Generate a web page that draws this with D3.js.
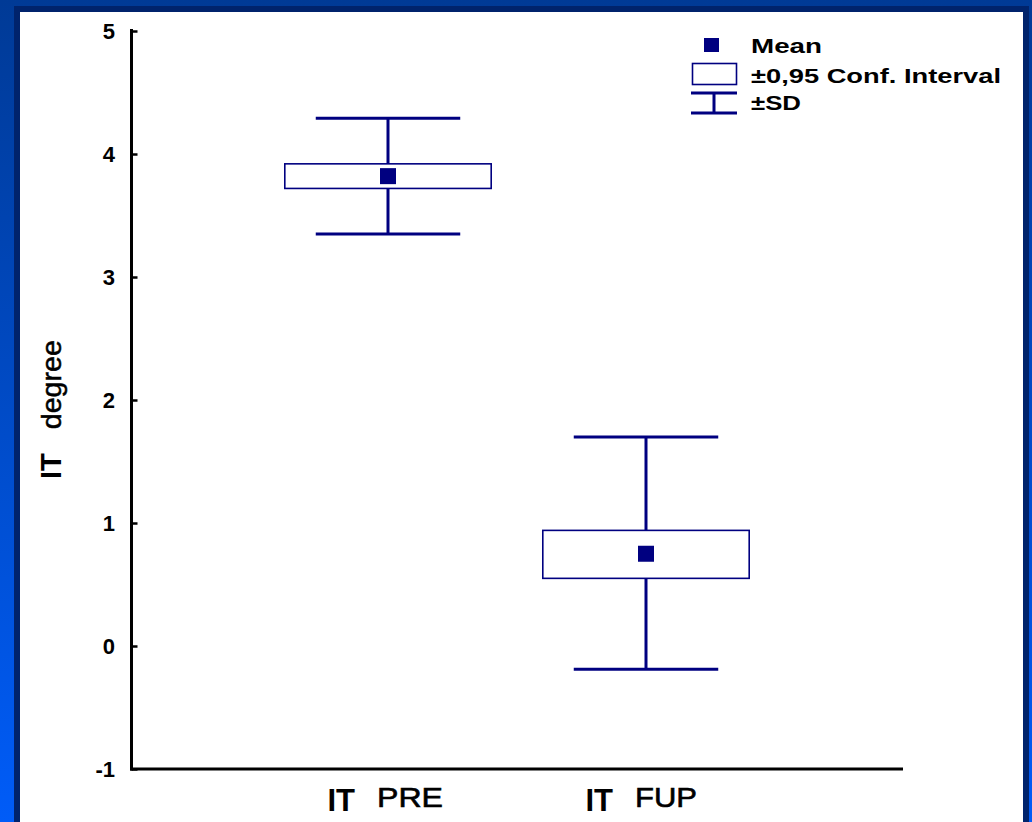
<!DOCTYPE html>
<html>
<head>
<meta charset="utf-8">
<script src="https://cdn.jsdelivr.net/npm/d3@7"></script>
<style>
  html, body { margin: 0; padding: 0; background: #0050e0; }
  svg { display: block; }
</style>
</head>
<body>
<svg id="chart" width="1032" height="822"></svg>
<script>
// Mean, 95% confidence interval and standard deviation of IT degree
const categories = ["PRE", "FUP"];
const means  = [3.82, 0.75];
const ciLow  = [3.72, 0.55];
const ciHigh = [3.92, 0.94];
const sdLow  = [3.35, -0.19];
const sdHigh = [4.29, 1.70];
const yTicks = [-1, 0, 1, 2, 3, 4, 5];
const legendLabels = ["Mean", "\u00b10,95 Conf. Interval", "\u00b1SD"];

const navy = "#000080";
const svg = d3.select("#chart");
const W = 1032, H = 822;

// slide-style frame
const defs = svg.append("defs");
const grad = defs.append("linearGradient").attr("id", "frameGrad")
  .attr("x1", 0).attr("y1", 0).attr("x2", 0).attr("y2", 1);
grad.append("stop").attr("offset", "0%").attr("stop-color", "#003a96");
grad.append("stop").attr("offset", "100%").attr("stop-color", "#005cf8");
svg.append("rect").attr("width", W).attr("height", H).attr("fill", "url(#frameGrad)");
svg.append("rect").attr("x", 14).attr("y", 6).attr("width", 1015).attr("height", H)
  .attr("fill", "#00236c");
svg.append("rect").attr("x", 20).attr("y", 12).attr("width", 1003).attr("height", H)
  .attr("fill", "#ffffff");

// scales
const y = d3.scaleLinear().domain([-1, 5]).range([769, 31]);
const x = d3.scalePoint().domain(categories).range([130, 904]).padding(1);
const step = x.step();
const boxW = step * 0.8;
const capW = step * 0.56;

// y axis
const yAxis = svg.append("g").attr("transform", "translate(131.5,0)")
  .call(d3.axisRight(y).tickValues(yTicks).tickSize(6).tickFormat(""));
yAxis.select(".domain").remove();
yAxis.selectAll(".tick line").attr("stroke", "#000").attr("stroke-width", 2.5);
svg.append("line").attr("x1", 131.5).attr("x2", 131.5)
  .attr("y1", y(5) - 2).attr("y2", y(-1) + 1.5)
  .attr("stroke", "#000").attr("stroke-width", 3);

svg.append("g").selectAll("text").data(yTicks).join("text")
  .attr("x", 115).attr("y", d => y(d) + 8)
  .attr("text-anchor", "end")
  .attr("font-family", "Liberation Sans, Arial, sans-serif")
  .attr("font-weight", "bold").attr("font-size", 22)
  .attr("fill", "#000")
  .text(d => d);

// x axis
svg.append("line").attr("x1", 130).attr("x2", 903)
  .attr("y1", y(-1)).attr("y2", y(-1))
  .attr("stroke", "#000").attr("stroke-width", 3);

// x category labels
const xl = svg.append("g").selectAll("g").data(categories).join("g")
  .attr("transform", d => `translate(${x(d)},0)`);
xl.append("text")
  .attr("x", -33).attr("y", 811).attr("text-anchor", "end")
  .attr("font-family", "Liberation Sans, Arial, sans-serif")
  .attr("font-weight", "bold").attr("font-size", 31).attr("fill", "#000")
  .text("IT");
xl.append("text")
  .attr("x", -11).attr("y", 807)
  .attr("font-family", "Liberation Sans, Arial, sans-serif")
  .attr("font-size", 28).attr("fill", "#000")
  .attr("stroke", "#000").attr("stroke-width", 0.6)
  .attr("textLength", (d, i) => i === 0 ? 66 : 62)
  .attr("lengthAdjust", "spacingAndGlyphs")
  .text(d => d);

// y axis title
const yt = svg.append("text")
  .attr("transform", "translate(61,479) rotate(-90)")
  .attr("font-family", "Liberation Sans, Arial, sans-serif")
  .attr("fill", "#000");
yt.append("tspan").attr("font-weight", "bold").attr("font-size", 29).text("IT");
yt.append("tspan").attr("dx", 24).attr("font-size", 28)
  .attr("stroke", "#000").attr("stroke-width", 0.5)
  .attr("textLength", 89).attr("lengthAdjust", "spacingAndGlyphs")
  .text("degree");

// whiskers (±SD)
const groups = svg.append("g").selectAll("g").data(categories).join("g");
groups.append("line")
  .attr("x1", d => x(d)).attr("x2", d => x(d))
  .attr("y1", (d, i) => y(sdHigh[i])).attr("y2", (d, i) => y(sdLow[i]))
  .attr("stroke", navy).attr("stroke-width", 3);
groups.append("line")
  .attr("x1", d => x(d) - capW / 2).attr("x2", d => x(d) + capW / 2)
  .attr("y1", (d, i) => y(sdHigh[i])).attr("y2", (d, i) => y(sdHigh[i]))
  .attr("stroke", navy).attr("stroke-width", 3);
groups.append("line")
  .attr("x1", d => x(d) - capW / 2).attr("x2", d => x(d) + capW / 2)
  .attr("y1", (d, i) => y(sdLow[i])).attr("y2", (d, i) => y(sdLow[i]))
  .attr("stroke", navy).attr("stroke-width", 3);

// 95% CI boxes
groups.append("rect")
  .attr("x", d => x(d) - boxW / 2).attr("width", boxW)
  .attr("y", (d, i) => y(ciHigh[i]))
  .attr("height", (d, i) => y(ciLow[i]) - y(ciHigh[i]))
  .attr("fill", "#fff").attr("stroke", navy).attr("stroke-width", 1.6);

// means
const ms = 16;
groups.append("rect")
  .attr("x", d => x(d) - ms / 2).attr("width", ms)
  .attr("y", (d, i) => y(means[i]) - ms / 2).attr("height", ms)
  .attr("fill", navy);

// legend
const lg = svg.append("g");
lg.append("rect").attr("x", 704).attr("y", 38).attr("width", 15).attr("height", 14).attr("fill", navy);
lg.append("rect").attr("x", 692.5).attr("y", 63.5).attr("width", 44).attr("height", 21)
  .attr("fill", "#fff").attr("stroke", navy).attr("stroke-width", 1.6);
lg.append("line").attr("x1", 691).attr("x2", 737).attr("y1", 93).attr("y2", 93)
  .attr("stroke", navy).attr("stroke-width", 3);
lg.append("line").attr("x1", 714).attr("x2", 714).attr("y1", 93).attr("y2", 113)
  .attr("stroke", navy).attr("stroke-width", 3);
lg.append("line").attr("x1", 691).attr("x2", 737).attr("y1", 113).attr("y2", 113)
  .attr("stroke", navy).attr("stroke-width", 3);
const legY = [53, 83, 110];
const legLen = [71, 250, 50];
lg.selectAll("text").data(legendLabels).join("text")
  .attr("x", 751).attr("y", (d, i) => legY[i])
  .attr("font-family", "Liberation Sans, Arial, sans-serif")
  .attr("font-weight", "bold").attr("font-size", 21).attr("fill", "#000")
  .attr("textLength", (d, i) => legLen[i]).attr("lengthAdjust", "spacingAndGlyphs")
  .text(d => d);
</script>
</body>
</html>
